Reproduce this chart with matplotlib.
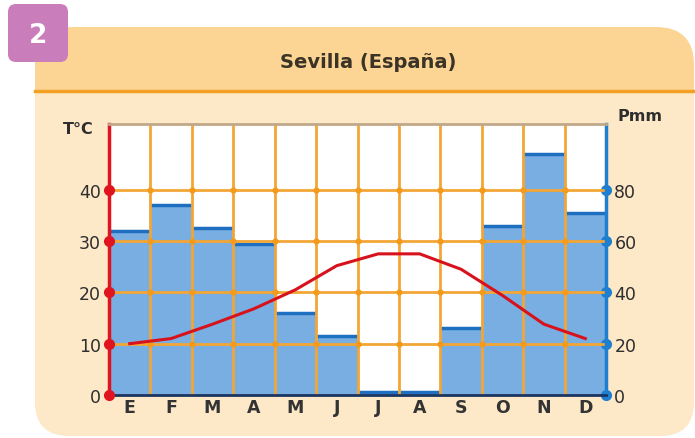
import numpy as np
import matplotlib.pyplot as plt
from matplotlib.patches import FancyBboxPatch, Rectangle

months = ['E', 'F', 'M', 'A', 'M', 'J', 'J', 'A', 'S', 'O', 'N', 'D']
precip_mm = [64, 74, 65, 59, 32, 23, 1, 1, 26, 66, 94, 71]
temp_c = [10, 11, 13.8, 16.8, 20.5, 25.2, 27.5, 27.5, 24.5, 19.4, 13.8, 11]
temp_ticks = [0, 10, 20, 30, 40]
precip_ticks = [0, 20, 40, 60, 80]
title = 'Sevilla (España)'

W, H = 695, 439
fig = plt.figure(figsize=(W / 100, H / 100), dpi=100)
fig.patch.set_facecolor('white')

# background panel drawn in pixel coords
bg = fig.add_axes([0, 0, 1, 1])
bg.set_xlim(0, W)
bg.set_ylim(H, 0)
bg.axis('off')
head_col = '#FCD595'
body_col = '#FDE8C8'
bg.add_patch(FancyBboxPatch((35, 28), 659, 409, boxstyle='round,pad=0,rounding_size=38',
                            fc=head_col, ec='none'))
bg.add_patch(Rectangle((35, 92), 659, 300, fc=body_col, ec='none'))
bg.add_patch(FancyBboxPatch((35, 150), 659, 287, boxstyle='round,pad=0,rounding_size=34',
                            fc=body_col, ec='none'))
bg.add_patch(Rectangle((35, 28), 20, 64, fc=head_col, ec='none'))
bg.plot([35, 694], [92, 92], color='#F3A125', lw=2.5)
bg.add_patch(FancyBboxPatch((8, 5), 60, 58, boxstyle='round,pad=0,rounding_size=8',
                            fc='#C97DBA', ec='none'))
bg.text(38, 36, '2', color='white', fontsize=19, fontweight='bold', ha='center', va='center')
bg.text(368, 62, title, color='#3A3326', fontsize=14, fontweight='bold', ha='center', va='center')
bg.text(78, 130, 'T°C', color='#2E2E2E', fontsize=11.5, fontweight='bold', ha='center', va='center')
bg.text(640, 117, 'Pmm', color='#2E2E2E', fontsize=11.5, fontweight='bold', ha='center', va='center')

# main chart: ax2 = precipitation (bars, below), ax = temperature (grid + line, on top)
x = np.arange(len(months))
left, right, top, bottom = 109, 606, 125, 396
ax2 = fig.add_axes([left / W, 1 - bottom / H, (right - left) / W, (bottom - top) / H])
ax = ax2.twinx()
ax.set_zorder(ax2.get_zorder() + 1)
ax.patch.set_visible(False)

tmax = 52.8
ax.set_ylim(0, tmax)
ax2.set_ylim(0, tmax * 2)
ax2.set_xlim(-0.5, 11.5)

ax2.bar(x, precip_mm, width=1.0, color='#78AEE2', edgecolor='none', zorder=1)
ax2.hlines(precip_mm, x - 0.5, x + 0.5, color='#1F6FC0', lw=2.5, zorder=2)
ax2.set_facecolor('white')

grid_col = '#F2A636'
for b in x[1:] - 0.5:
    ax.axvline(b, color=grid_col, lw=2, zorder=1)
for t in temp_ticks[1:]:
    ax.axhline(t, color=grid_col, lw=2, zorder=1)
# small dots where grid lines cross
gx, gy = np.meshgrid(x[1:] - 0.5, temp_ticks[1:])
ax.plot(gx.ravel(), gy.ravel(), 'o', color='#F59A1A', ms=3.5, zorder=2)
ax.plot(x, temp_c, color='#D8121C', lw=2.2, zorder=3)

# axes/ticks styling
for a in (ax, ax2):
    for s in a.spines.values():
        s.set_visible(False)
    a.tick_params(length=0)
ax.spines['right'].set_visible(True)
ax.spines['right'].set_color('#1E7ED0')
ax.spines['right'].set_linewidth(2.5)
ax.spines['left'].set_visible(True)
ax.spines['left'].set_color('#E0141E')
ax.spines['left'].set_linewidth(2.5)
ax.spines['bottom'].set_visible(True)
ax.spines['bottom'].set_color('#1B3560')
ax.spines['bottom'].set_linewidth(2)
ax.spines['top'].set_visible(True)
ax.spines['top'].set_color('#C0A888')
ax.spines['top'].set_linewidth(2)

# left ticks belong to temperature, right to precipitation
ax.yaxis.tick_left()
ax2.yaxis.tick_right()
ax.set_yticks(temp_ticks)
ax.set_yticklabels([str(t) for t in temp_ticks], fontsize=12.5, color='#2E2E2E')
ax2.set_yticks(precip_ticks)
ax2.set_yticklabels([str(p) for p in precip_ticks], fontsize=12.5, color='#2E2E2E')
ax.tick_params(axis='y', pad=6)
ax2.tick_params(axis='y', pad=6)
ax2.set_xticks(x)
ax2.set_xticklabels(months, fontsize=12.5, fontweight='bold', color='#333333')
ax2.tick_params(axis='x', pad=2, length=0)

ax.plot(np.full(len(temp_ticks), -0.5), temp_ticks, 'o', color='#E0141E', ms=7,
        clip_on=False, zorder=5)
ax2.plot(np.full(len(precip_ticks), 11.5), precip_ticks, 'o', color='#1E7ED0', ms=7,
         clip_on=False, zorder=5)

fig.savefig('out.png', dpi=100)
